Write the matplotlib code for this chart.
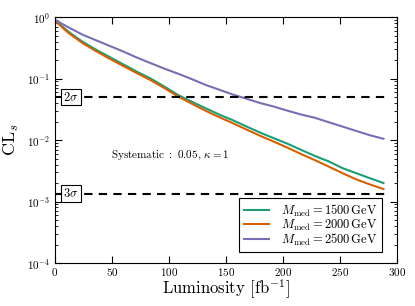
import matplotlib
matplotlib.use("Agg")
import matplotlib.pyplot as plt
import numpy as np

plt.rcParams['font.family'] = 'serif'
plt.rcParams['font.serif'] = ['cmr10']
plt.rcParams['mathtext.fontset'] = 'cm'
plt.rcParams['axes.formatter.use_mathtext'] = True

lumi = [0, 12, 24, 36, 48, 60, 72, 84, 96, 108, 120, 132, 144, 156, 168,
        180, 192, 204, 216, 228, 240, 252, 264, 276, 288]
cls_1500 = [0.89, 0.575, 0.40, 0.295, 0.224, 0.17, 0.129, 0.100, 0.074, 0.054,
            0.042, 0.033, 0.026, 0.021, 0.0166, 0.0132, 0.0107, 0.0087, 0.0069,
            0.0055, 0.0045, 0.0035, 0.0029, 0.0024, 0.0020]
cls_2000 = [0.87, 0.55, 0.38, 0.28, 0.21, 0.16, 0.122, 0.094, 0.070, 0.051,
            0.039, 0.030, 0.0236, 0.0188, 0.0148, 0.0117, 0.0094, 0.0075, 0.0059,
            0.0047, 0.0037, 0.0029, 0.0023, 0.0019, 0.0016]
cls_2500 = [0.90, 0.68, 0.52, 0.42, 0.34, 0.275, 0.219, 0.178, 0.145, 0.12,
            0.098, 0.079, 0.066, 0.055, 0.047, 0.040, 0.035, 0.030, 0.026,
            0.023, 0.0195, 0.0166, 0.0141, 0.012, 0.0105]
labels = [r'$M_{\rm med}=1500\,{\rm GeV}$',
          r'$M_{\rm med}=2000\,{\rm GeV}$',
          r'$M_{\rm med}=2500\,{\rm GeV}$']
colors = ['#1b9e77', '#d95f02', '#7570b3']
sig2 = 0.05
sig3 = 0.00135

fig = plt.figure(figsize=(4.15, 3.06), dpi=100)
ax = fig.add_axes([0.1325, 0.1405, 0.8245, 0.8035])

for y, lab, c in zip([cls_1500, cls_2000, cls_2500], labels, colors):
    ax.plot(lumi, y, color=c, lw=1.5, label=lab)

ax.hlines([sig2, sig3], 0, 290, colors='black', linestyles=(0, (4, 3)), lw=1.5)
bb = dict(boxstyle='square,pad=0.15', facecolor='white', edgecolor='black', lw=0.8)
ax.text(14, sig2, r'$2\sigma$', ha='center', va='center', fontsize=9, bbox=bb, zorder=5)
ax.text(14, sig3, r'$3\sigma$', ha='center', va='center', fontsize=9, bbox=bb, zorder=5)
ax.text(49, 0.0057, r'$\mathrm{Systematic}\ :\ 0.05,\,\kappa=1$', ha='left', va='center', fontsize=8)

ax.set_yscale('log')
ax.set_xlim(0, 300)
ax.set_ylim(1e-4, 1)
ax.set_xticks([0, 50, 100, 150, 200, 250, 300])
ax.tick_params(which='both', direction='in', top=True, right=True, labelsize=8)
ax.tick_params(axis='x', pad=2)
ax.tick_params(which='major', length=5)
ax.tick_params(which='minor', length=2.5)
ax.set_xlabel(r'Luminosity [fb$^{-1}$]', fontsize=12, labelpad=0)
ax.set_ylabel(r'$\mathrm{CL}_s$', fontsize=13)

leg = ax.legend(loc='lower right', bbox_to_anchor=(0.956, 0.045), borderaxespad=0,
                fontsize=9, fancybox=False, edgecolor='black',
                framealpha=1, handlelength=2.0, labelspacing=-0.1, borderpad=0.35,
                handletextpad=1.0)
leg.get_frame().set_linewidth(0.8)

fig.savefig('out.png', dpi=100)
